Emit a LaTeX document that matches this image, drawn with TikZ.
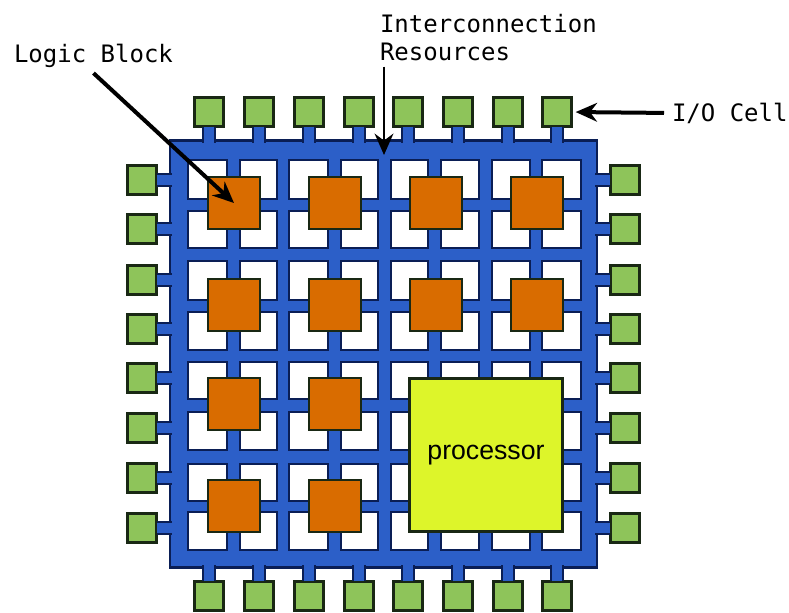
\documentclass[tikz,border=0pt]{standalone}
\usepackage{fontspec}
\newfontfamily\labelfont{DejaVu Sans Mono}
\newfontfamily\procfont{Liberation Sans}
\usetikzlibrary{arrows.meta}
\definecolor{busblue}{RGB}{44,95,200}
\definecolor{busedge}{RGB}{10,30,85}
\definecolor{blockorange}{RGB}{217,108,0}
\definecolor{cellgreen}{RGB}{142,196,90}
\definecolor{cpuyellow}{RGB}{221,245,42}
\definecolor{celledge}{RGB}{25,40,20}
\tikzset{%
  frame/.style={draw=busedge,fill=busblue,line width=1.8pt,minimum size=320pt,inner sep=0pt,outer sep=0pt},
  hole/.style={draw=busedge,fill=white,line width=2pt},
  stub/.style={draw=busedge,double=busblue,double distance=8pt,line width=1.5pt,shorten >=-1.5pt},
  iocell/.style={draw=celledge,fill=cellgreen,line width=1.8pt,minimum size=22pt,inner sep=0pt,outer sep=0pt},
  logicblock/.style={draw=celledge,fill=blockorange,line width=1.5pt,minimum size=39pt,inner sep=0pt,outer sep=0pt},
  cpublock/.style={draw=celledge,fill=cpuyellow,line width=1.8pt,minimum size=115pt,inner sep=0pt,outer sep=0pt,font=\procfont\fontsize{20}{24}\selectfont},
  callout/.style={font=\labelfont\fontsize{18}{21}\selectfont,inner sep=0pt,outer sep=0pt},
  pointer/.style={-{Stealth[length=16pt,width=14pt]},black,line width=3pt}
}
\begin{document}
\begin{tikzpicture}[x=0.75pt,y=-0.75pt]
  \useasboundingbox (0,0) rectangle (789,612);

  % chip and routing channels
  \node[frame] (chip) at (383.5,354) {};
  \foreach \ya/\yb in {160/199,211/248,261/300,312/350,362/399,412/450,464/501,512/550}
    \foreach \xa/\xb in {188/227,240/277,289/328,341/378,391/428,441/479,492/530,542/581}
      \draw[hole] (\xa,\ya) rectangle (\xb,\yb);

  % I/O cells on the four sides
  \foreach \x [count=\i] in {209,259,309,359,408,458,508,557} {
    \node[iocell] (top\i) at (\x,112) {};
    \node[iocell] (bot\i) at (\x,596) {};
    \draw[stub] (top\i.south) -- (top\i.south |- chip.north);
    \draw[stub] (bot\i.north) -- (bot\i.north |- chip.south);
  }
  \foreach \y [count=\i] in {180,229,280,329,378,428,478,528} {
    \node[iocell] (lft\i) at (142,\y) {};
    \node[iocell] (rgt\i) at (625,\y) {};
    \draw[stub] (lft\i.east) -- (lft\i.east -| chip.west);
    \draw[stub] (rgt\i.west) -- (rgt\i.west -| chip.east);
  }

  % logic blocks
  \foreach \y [count=\r] in {203,305}
    \foreach \x [count=\c] in {234,334.5,436,537}
      \node[logicblock] (blk\r\c) at (\x,\y) {};
  \foreach \y [count=\r from 3] in {404,506}
    \foreach \x [count=\c] in {234,334.5}
      \node[logicblock] (blk\r\c) at (\x,\y) {};
  \node[cpublock] (cpu) at (486,455) {processor};

  % labels and arrows
  \node[callout,anchor=west] (logiclabel) at (14,56) {Logic Block};
  \node[callout,anchor=west,align=left] (buslabel) at (380,38) {Interconnection\\Resources};
  \node[callout,anchor=west] (iolabel) at (672,113) {I/O Cell};
  \coordinate (bus) at (384,155);

  \draw[pointer] ([yshift=-4pt]logiclabel.south) -- (blk11.center);
  \draw[pointer,line width=2.2pt] ([yshift=-4pt]buslabel.south -| bus) -- (bus);
  \draw[pointer,shorten >=3pt,shorten <=6pt] (iolabel.west) -- (top8.east);
\end{tikzpicture}
\end{document}
